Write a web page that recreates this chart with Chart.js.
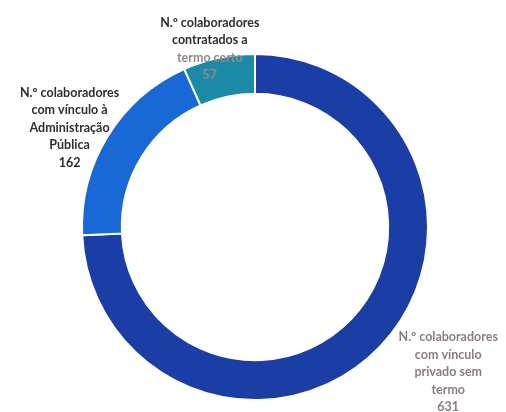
<!DOCTYPE html>
<html>
<head>
<meta charset="utf-8">
<script src="https://cdn.jsdelivr.net/npm/chart.js@4"></script>
<style>
  html, body { margin:0; padding:0; background:#fff; }
  #wrap { width:506px; height:412px; position:relative; }
</style>
</head>
<body>
<div id="wrap"><canvas id="chart"></canvas></div>
<script>
// categorias (linhas do rótulo) e valores
const categories = [
  ['N.º colaboradores', 'com vínculo', 'privado sem', 'termo'],
  ['N.º colaboradores', 'com vínculo à', 'Administração', 'Pública'],
  ['N.º colaboradores', 'contratados a', 'termo certo']
];
const values = [631, 162, 57];

const sliceColors = ['#1a3da6', '#1868d6', '#1a8aa6'];
// deslocamento do rótulo a partir do ponto médio exterior de cada fatia
const labelOffsets = [[68, 26], [-38, -9], [-9, -9]];
const labelColors = [
  ['#8b7d88', '#8b7d88', '#8b7d88', '#8b7d88', '#8b7d88'],
  ['#2e2e2e', '#2e2e2e', '#2e2e2e', '#2e2e2e', '#2e2e2e'],
  ['#2e2e2e', '#2e2e2e', '#958a88', '#958a88']
];

const sliceLabels = {
  id: 'sliceLabels',
  afterDraw(chart) {
    const ctx = chart.ctx;
    const arcs = chart.getDatasetMeta(0).data;
    const lh = 17.5;
    ctx.save();
    ctx.font = 'bold 12.5px Lato, sans-serif';
    ctx.textAlign = 'center';
    ctx.textBaseline = 'middle';
    arcs.forEach((arc, i) => {
      const mid = (arc.startAngle + arc.endAngle) / 2;
      const ax = arc.x + Math.cos(mid) * arc.outerRadius;
      const ay = arc.y + Math.sin(mid) * arc.outerRadius;
      const lines = categories[i].concat(String(values[i]));
      const cx = ax + labelOffsets[i][0];
      const cy = ay + labelOffsets[i][1];
      const top = cy - (lines.length - 1) * lh / 2;
      lines.forEach((t, j) => {
        ctx.fillStyle = labelColors[i][j];
        ctx.fillText(t, cx, top + j * lh);
      });
    });
    ctx.restore();
  }
};

new Chart(document.getElementById('chart'), {
  type: 'doughnut',
  data: {
    labels: categories.map(c => c.join(' ')),
    datasets: [{
      data: values,
      backgroundColor: sliceColors,
      borderColor: '#ffffff',
      borderWidth: 2
    }]
  },
  options: {
    responsive: true,
    maintainAspectRatio: false,
    animation: false,
    cutout: '77%',
    layout: { padding: { left: 81, right: 77, top: 53, bottom: 11 } },
    plugins: { legend: { display: false }, tooltip: { enabled: false } }
  },
  plugins: [sliceLabels]
});
</script>
</body>
</html>
